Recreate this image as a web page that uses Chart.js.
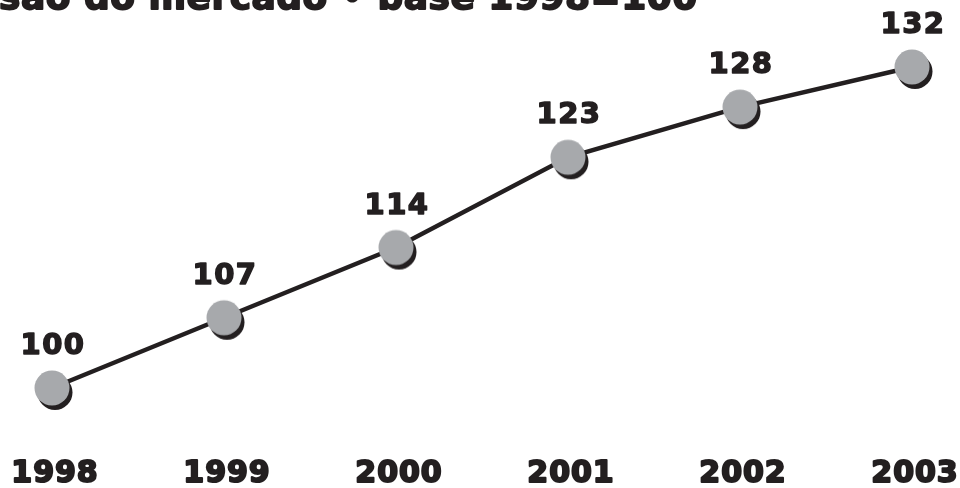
<!DOCTYPE html>
<html>
<head>
<meta charset="utf-8">
<script src="https://cdn.jsdelivr.net/npm/chart.js@4"></script>
<style>
  html, body { margin: 0; padding: 0; background: #fff; }
  #wrap { width: 960px; height: 488px; }
</style>
</head>
<body>
<div id="wrap"><canvas id="line-chart" width="960" height="488"></canvas></div>
<script>
const years = ["1998", "1999", "2000", "2001", "2002", "2003"];
const indexValues = [100, 107, 114, 123, 128, 132];
const titleText = "Expansão do mercado • base 1998=100";
const hiddenPart = "Expan";

const ink = "#231f20";
const dotGray = "#a7a9ac";
const font = '"DejaVu Sans", Verdana, sans-serif';

// gray dot with a black drop shadow, used as the point style
const dot = document.createElement("canvas");
dot.width = 46;
dot.height = 46;
const dctx = dot.getContext("2d");
dctx.fillStyle = ink;
dctx.beginPath();
dctx.arc(23 + 3, 23 + 4.5, 17.5, 0, Math.PI * 2);
dctx.fill();
dctx.fillStyle = dotGray;
dctx.beginPath();
dctx.arc(23, 23, 17.5, 0, Math.PI * 2);
dctx.fill();

// heavy text: fill plus a thin stroke in the same colour
function heavyText(ctx, txt, x, y, size, stroke, spacing) {
  ctx.font = "bold " + size + "px " + font;
  ctx.letterSpacing = spacing + "px";
  ctx.fillStyle = ink;
  ctx.strokeStyle = ink;
  ctx.lineWidth = stroke;
  ctx.lineJoin = "round";
  ctx.strokeText(txt, x, y);
  ctx.fillText(txt, x, y);
}

const textLayer = {
  id: "textLayer",
  afterDatasetsDraw(chart) {
    const ctx = chart.ctx;
    const meta = chart.getDatasetMeta(0);
    const xScale = chart.scales.x;
    ctx.save();
    ctx.textAlign = "center";
    ctx.textBaseline = "alphabetic";
    meta.data.forEach((pt, i) => {
      heavyText(ctx, String(indexValues[i]), pt.x + 1, pt.y - 34, 29, 1.5, 1.5);
    });
    years.forEach((yr, i) => {
      heavyText(ctx, yr, xScale.getPixelForValue(i) + 3, 482, 30, 2, 1);
    });
    ctx.textAlign = "left";
    ctx.font = "bold 36px " + font;
    ctx.letterSpacing = "0.5px";
    const off = ctx.measureText(hiddenPart).width;
    heavyText(ctx, titleText, -off - 1, 9, 36, 1.8, 0.5);
    ctx.restore();
  },
};

new Chart(document.getElementById("line-chart"), {
  type: "line",
  data: {
    labels: years,
    datasets: [
      {
        data: indexValues,
        borderColor: ink,
        borderWidth: 4.5,
        tension: 0,
        pointStyle: dot,
        pointRadius: 18,
        pointHoverRadius: 18,
        clip: false,
      },
    ],
  },
  options: {
    responsive: false,
    animation: false,
    layout: { padding: { left: 52, right: 48, top: 67, bottom: 100 } },
    plugins: {
      legend: { display: false },
      title: { display: false },
      tooltip: { enabled: false },
    },
    scales: {
      x: { display: false, offset: false },
      y: { display: false, min: 100, max: 132 },
    },
  },
  plugins: [textLayer],
});
</script>
</body>
</html>
